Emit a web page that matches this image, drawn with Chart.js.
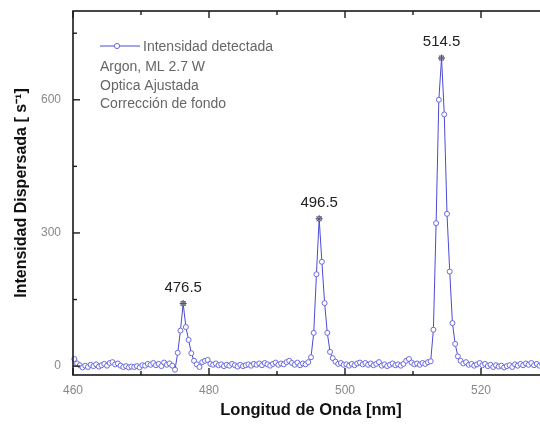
<!DOCTYPE html>
<html><head><meta charset="utf-8">
<script src="https://cdn.jsdelivr.net/npm/chart.js@4/dist/chart.umd.min.js"></script>
<style>html,body{margin:0;padding:0;overflow:hidden;background:#fff}#wrap{width:560px;height:428px}</style>
</head><body><div id="wrap"><canvas id="c" width="560" height="428"></canvas></div>
<script>
const wavelengths = [
460.2,460.6,461.0,461.4,461.8,462.2,462.6,463.0,463.4,463.8,
464.2,464.6,465.0,465.4,465.8,466.2,466.6,467.0,467.4,467.8,
468.2,468.6,469.0,469.4,469.8,470.2,470.6,471.0,471.4,471.8,
472.2,472.6,473.0,473.4,473.8,474.2,474.6,475.0,475.4,475.8,
476.2,476.6,477.0,477.4,477.8,478.2,478.6,479.0,479.4,479.8,
480.2,480.6,481.0,481.4,481.8,482.2,482.6,483.0,483.4,483.8,
484.2,484.6,485.0,485.4,485.8,486.2,486.6,487.0,487.4,487.8,
488.2,488.6,489.0,489.4,489.8,490.2,490.6,491.0,491.4,491.8,
492.2,492.6,493.0,493.4,493.8,494.2,494.6,495.0,495.4,495.8,
496.2,496.6,497.0,497.4,497.8,498.2,498.6,499.0,499.4,499.8,
500.2,500.6,501.0,501.4,501.8,502.2,502.6,503.0,503.4,503.8,
504.2,504.6,505.0,505.4,505.8,506.2,506.6,507.0,507.4,507.8,
508.2,508.6,509.0,509.4,509.8,510.2,510.6,511.0,511.4,511.8,
512.2,512.6,513.0,513.4,513.8,514.2,514.6,515.0,515.4,515.8,
516.2,516.6,517.0,517.4,517.8,518.2,518.6,519.0,519.4,519.8,
520.2,520.6,521.0,521.4,521.8,522.2,522.6,523.0,523.4,523.8,
524.2,524.6,525.0,525.4,525.8,526.2,526.6,527.0,527.4,527.8,
528.2,528.6,529.0,529.4,529.8
];
const intensities = [
16,6,2,-3,1,-2,3,0,4,-1,
2,5,1,7,9,4,6,1,-2,0,
-3,-1,-2,0,-3,2,1,5,3,7,
2,5,0,8,3,6,1,-8,30,80,
141,88,59,29,12,4,-2,9,12,14,
5,3,6,2,4,0,3,1,5,2,
-1,3,0,2,4,1,5,3,6,2,
7,4,1,5,8,3,6,4,9,12,
7,3,8,2,6,4,9,20,75,207,
332,235,142,75,32,18,10,5,7,3,
4,1,5,2,6,8,4,7,3,6,
2,5,9,1,4,0,3,6,2,4,
1,5,12,16,8,4,6,3,7,5,
9,11,82,322,600,694,567,343,213,97,
50,22,12,6,9,3,5,1,4,7,
2,5,0,3,-2,2,-1,1,-3,0,
2,-2,4,1,5,2,6,3,7,2,
5,1,4,2,3
];
const peakWavelengths = [476.2, 496.2, 514.2];
const peakIntensities = [141, 332, 694];
const peakLabels = ['476.5', '496.5', '514.5'];
const xTickValues = [460, 480, 500, 520];
const xMinorTicks = [470, 490, 510, 530];
const yTickValues = [0, 300, 600];
const yMinorTicks = [150, 450, 750];
const legendLabel = 'Intensidad detectada';
const noteLines = ['Argon, ML 2.7 W', 'Optica Ajustada', 'Corrección de fondo'];
const xTitle = 'Longitud de Onda [nm]';
const yTitle = 'Intensidad Dispersada [ s⁻¹]';

const FONT = '"Liberation Sans", Arial, sans-serif';
const LINE_COLOR = '#4a4ad6';
const POINT_COLOR = '#6a6ae0';

const framePlugin = {
  id: 'frame',
  afterDraw(chart) {
    const ctx = chart.ctx;
    const a = chart.chartArea;
    const xs = chart.scales.x, ys = chart.scales.y;
    ctx.save();
    ctx.strokeStyle = '#1a1a1a';
    ctx.lineWidth = 1.6;
    ctx.strokeRect(a.left, a.top, a.right - a.left, a.bottom - a.top);
    ctx.lineWidth = 1.4;
    const tick = (x1, y1, x2, y2) => { ctx.beginPath(); ctx.moveTo(x1, y1); ctx.lineTo(x2, y2); ctx.stroke(); };
    xTickValues.forEach(v => { const p = xs.getPixelForValue(v); tick(p, a.bottom, p, a.bottom - 7); tick(p, a.top, p, a.top + 7); });
    xMinorTicks.forEach(v => { const p = xs.getPixelForValue(v); tick(p, a.bottom, p, a.bottom - 4); tick(p, a.top, p, a.top + 4); });
    yTickValues.forEach(v => { const p = ys.getPixelForValue(v); tick(a.left, p, a.left + 7, p); tick(a.right, p, a.right - 7, p); });
    yMinorTicks.forEach(v => { const p = ys.getPixelForValue(v); tick(a.left, p, a.left + 4, p); tick(a.right, p, a.right - 4, p); });

    // legend
    const lx = a.left + 27, ly = a.top + 35;
    ctx.strokeStyle = LINE_COLOR; ctx.lineWidth = 1;
    tick(lx, ly, lx + 40, ly);
    ctx.beginPath(); ctx.arc(lx + 17, ly, 2.6, 0, Math.PI * 2);
    ctx.fillStyle = '#fff'; ctx.fill(); ctx.strokeStyle = POINT_COLOR; ctx.stroke();
    ctx.fillStyle = '#666';
    ctx.font = '14px ' + FONT;
    ctx.textAlign = 'left'; ctx.textBaseline = 'middle';
    ctx.fillText(legendLabel, lx + 43, ly + 1);
    noteLines.forEach((t, i) => ctx.fillText(t, lx, ly + 21.5 + i * 18.5));

    // peak labels
    ctx.fillStyle = '#222';
    ctx.font = '15px ' + FONT;
    ctx.textAlign = 'center';
    peakLabels.forEach((t, i) => {
      const px = xs.getPixelForValue(peakWavelengths[i]);
      const py = ys.getPixelForValue(peakIntensities[i]);
      ctx.fillText(t, px, py - 16);
    });
    ctx.restore();
  }
};

new Chart(document.getElementById('c'), {
  type: 'line',
  data: {
    datasets: [
      {
        label: 'peaks',
        data: peakWavelengths.map((w, i) => ({ x: w, y: peakIntensities[i] })),
        showLine: false,
        pointStyle: 'star',
        pointRadius: 3.5,
        pointBorderColor: '#555',
        pointBorderWidth: 1,
        pointBackgroundColor: '#555'
      },
      {
        label: legendLabel,
        data: wavelengths.map((w, i) => ({ x: w, y: intensities[i] })),
        borderColor: LINE_COLOR,
        borderWidth: 1,
        pointRadius: 2.5,
        pointBorderWidth: 1,
        pointBorderColor: POINT_COLOR,
        pointBackgroundColor: '#fff',
        tension: 0,
        clip: false
      }
    ]
  },
  options: {
    responsive: false,
    animation: false,
    devicePixelRatio: 1,
    layout: { padding: { top: 11, right: 11, left: 0, bottom: 0 } },
    plugins: { legend: { display: false }, tooltip: { enabled: false } },
    scales: {
      x: {
        type: 'linear', min: 460, max: 530,
        afterBuildTicks: s => { s.ticks = xTickValues.map(v => ({ value: v })); },
        afterFit: s => { s.height = 53; s.paddingLeft = 0; s.paddingRight = 0; },
        grid: { display: false, drawTicks: false },
        border: { display: false },
        ticks: { color: '#888', font: { size: 12, family: FONT }, padding: 8, maxRotation: 0, autoSkip: false },
        title: { display: true, text: xTitle, color: '#111', font: { size: 16.5, weight: 'bold', family: FONT }, padding: { top: 0, bottom: 8 } }
      },
      y: {
        type: 'linear', min: -20, max: 800,
        afterBuildTicks: s => { s.ticks = yTickValues.map(v => ({ value: v })); },
        afterFit: s => { s.width = 73; s.paddingTop = 0; s.paddingBottom = 0; },
        grid: { display: false, drawTicks: false },
        border: { display: false },
        ticks: { color: '#888', font: { size: 12, family: FONT }, padding: 12 },
        title: { display: true, text: yTitle, color: '#111', font: { size: 16, weight: 'bold', family: FONT }, padding: { top: 12, bottom: 0 } }
      }
    }
  },
  plugins: [framePlugin]
});
</script>
</body></html>
